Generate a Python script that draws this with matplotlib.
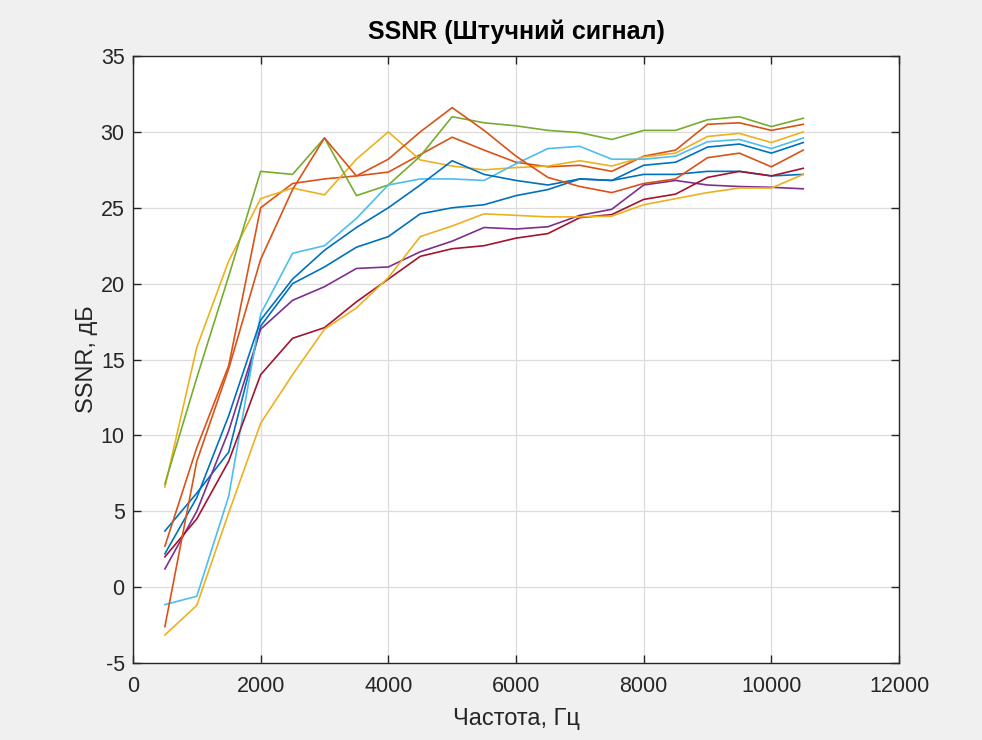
import matplotlib
matplotlib.use('Agg')
import matplotlib.pyplot as plt
import numpy as np

# Частоти, Гц
freq = np.arange(500, 11000, 500)

# SSNR, дБ
blue_1 = [3.7, 6.2, 8.9, 17.2, 20.0, 21.1, 22.4, 23.1, 24.6, 25.0, 25.2,
          25.8, 26.2, 26.9, 26.8, 27.2, 27.2, 27.4, 27.4, 27.1, 27.2]
orange_1 = [2.7, 9.2, 14.6, 25.0, 26.6, 26.9, 27.1, 27.35, 28.5, 29.65, 28.8,
            28.0, 27.7, 27.8, 27.4, 28.4, 28.8, 30.5, 30.6, 30.1, 30.5]
yellow_1 = [6.6, 15.8, 21.5, 25.6, 26.3, 25.85, 28.2, 30.0, 28.15, 27.75, 27.5,
            27.65, 27.75, 28.1, 27.75, 28.35, 28.6, 29.7, 29.9, 29.3, 30.0]
purple_1 = [1.2, 5.0, 10.3, 17.0, 18.9, 19.8, 21.0, 21.1, 22.1, 22.8, 23.7,
            23.6, 23.75, 24.5, 24.9, 26.5, 26.8, 26.5, 26.4, 26.35, 26.25]
green_1 = [6.8, 13.8, 20.5, 27.4, 27.2, 29.6, 25.8, 26.5, 28.4, 31.0, 30.6,
           30.4, 30.1, 29.95, 29.5, 30.1, 30.1, 30.8, 31.0, 30.35, 30.9]
lightblue_1 = [-1.15, -0.6, 6.0, 18.0, 22.0, 22.5, 24.3, 26.5, 26.9, 26.9, 26.8,
               27.9, 28.9, 29.05, 28.2, 28.2, 28.4, 29.35, 29.5, 28.9, 29.6]
darkred_1 = [2.0, 4.5, 8.3, 14.0, 16.4, 17.1, 18.8, 20.3, 21.8, 22.3, 22.5,
             23.0, 23.3, 24.35, 24.55, 25.55, 25.9, 27.0, 27.4, 27.1, 27.6]
blue_2 = [2.2, 5.9, 11.3, 17.6, 20.3, 22.2, 23.7, 25.0, 26.5, 28.1, 27.2,
          26.8, 26.5, 26.9, 26.8, 27.8, 28.0, 29.0, 29.2, 28.6, 29.3]
orange_2 = [-2.6, 8.3, 14.4, 21.6, 26.2, 29.6, 27.1, 28.2, 30.0, 31.6, 30.1,
            28.4, 27.0, 26.4, 26.0, 26.6, 26.9, 28.3, 28.6, 27.7, 28.8]
yellow_2 = [-3.15, -1.2, 4.9, 10.8, 14.0, 17.0, 18.4, 20.4, 23.1, 23.8, 24.6,
            24.5, 24.4, 24.4, 24.45, 25.2, 25.6, 26.0, 26.3, 26.3, 27.2]

series = [blue_1, orange_1, yellow_1, purple_1, green_1,
          lightblue_1, darkred_1, blue_2, orange_2, yellow_2]
# стандартний порядок кольорів MATLAB
colors = ['#0072BD', '#D95319', '#EDB120', '#7E2F8E', '#77AC30',
          '#4DBEEE', '#A2142F', '#0072BD', '#D95319', '#EDB120']

plt.rcParams['font.family'] = ['Liberation Sans', 'DejaVu Sans']
plt.rcParams['axes.unicode_minus'] = False

fig = plt.figure(figsize=(9.82, 7.4), dpi=100, facecolor='#F0F0F0')
ax = fig.add_axes([0.1354, 0.104, 0.7801, 0.8203])
ax.set_facecolor('white')

for vals, c in zip(series, colors):
    ax.plot(freq, vals, color=c, linewidth=1.2)

ax.set_xlim(0, 12000)
ax.set_ylim(-5, 35)
ax.set_xticks(np.arange(0, 12001, 2000))
ax.set_yticks(np.arange(-5, 36, 5))
ax.grid(True, color='#dcdcdc', linewidth=0.9)
ax.set_axisbelow(True)

text_c = '#262626'
ax.tick_params(direction='in', length=6, width=1, colors=text_c,
               labelsize=15.5, top=True, right=True)
ax.tick_params(axis='x', pad=9)
ax.tick_params(axis='y', pad=6)
for sp in ax.spines.values():
    sp.set_color(text_c)
    sp.set_linewidth(1.0)

ax.set_title('SSNR (Штучний сигнал)', fontsize=18, fontweight='bold',
             color='black', pad=12)
ax.set_xlabel('Частота, Гц', fontsize=17, color=text_c, labelpad=8)
ax.set_ylabel('SSNR, дБ', fontsize=17, color=text_c, labelpad=2)

fig.savefig('out.png', dpi=100, facecolor=fig.get_facecolor())
